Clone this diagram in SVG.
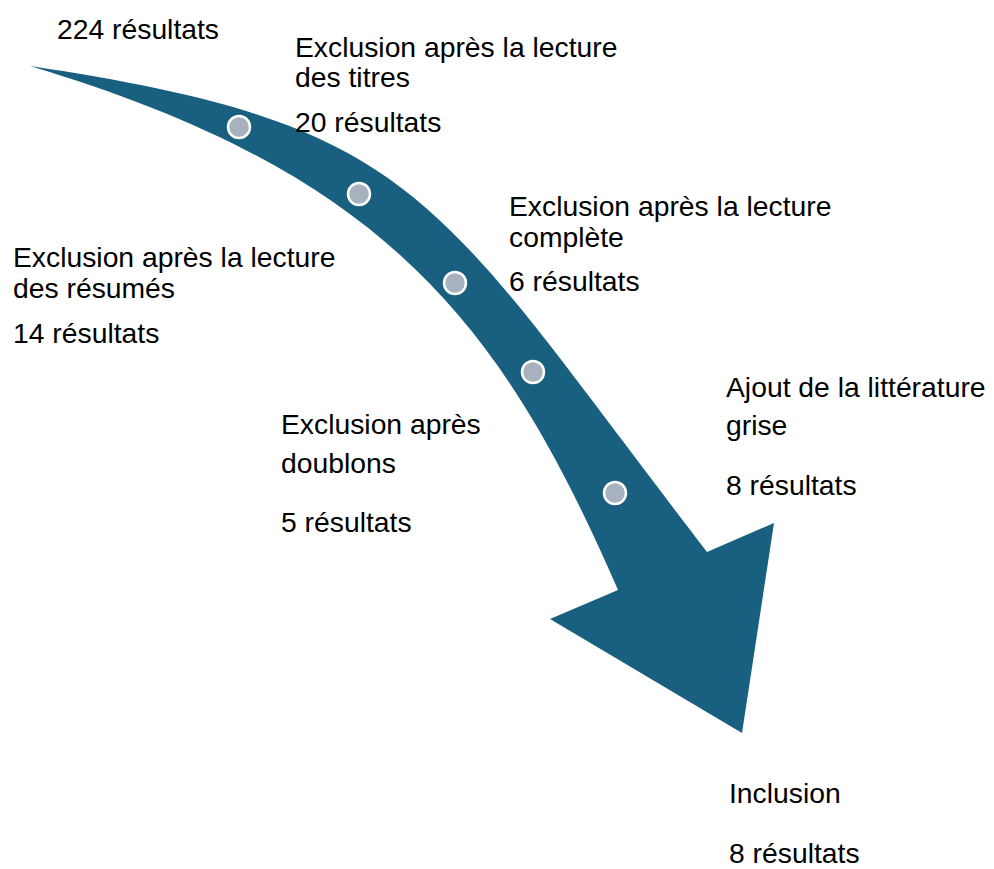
<svg xmlns="http://www.w3.org/2000/svg" width="994" height="869" viewBox="0 0 994 869">
<style>
text{font-family:"Liberation Sans",Arial,sans-serif;font-size:28.3px;fill:#000}
.arrow{fill:#185F80}
.dot{fill:#A8B2BE;stroke:#fff;stroke-width:2.5}
</style>
<rect width="994" height="869" fill="#fff"/>
<g id="arrow">
<path class="arrow" d="M30,66 C424,125 432,194.5 707,552 L774,523 L742,733 L550,619 L618,590 C501,321 384,172 30,66 Z"/>
</g>
<g id="dots">
<circle class="dot" cx="239" cy="127" r="11"/>
<circle class="dot" cx="359" cy="194" r="11"/>
<circle class="dot" cx="455" cy="283" r="11"/>
<circle class="dot" cx="533" cy="372" r="11"/>
<circle class="dot" cx="615" cy="493" r="11"/>
</g>
<g id="start"><text x="57" y="39">224 résultats</text></g>
<g id="titres">
<text x="295" y="57">Exclusion après la lecture</text>
<text x="295" y="87">des titres</text>
<text x="295" y="132">20 résultats</text>
</g>
<g id="resumes">
<text x="13" y="267">Exclusion après la lecture</text>
<text x="13" y="298">des résumés</text>
<text x="13" y="343">14 résultats</text>
</g>
<g id="complete">
<text x="509" y="216">Exclusion après la lecture</text>
<text x="509" y="247">complète</text>
<text x="509" y="291">6 résultats</text>
</g>
<g id="doublons">
<text x="281" y="434">Exclusion après</text>
<text x="281" y="473">doublons</text>
<text x="281" y="532">5 résultats</text>
</g>
<g id="grise">
<text x="726" y="397">Ajout de la littérature</text>
<text x="726" y="435">grise</text>
<text x="726" y="495">8 résultats</text>
</g>
<g id="inclusion">
<text x="729" y="803">Inclusion</text>
<text x="729" y="863">8 résultats</text>
</g>
</svg>
